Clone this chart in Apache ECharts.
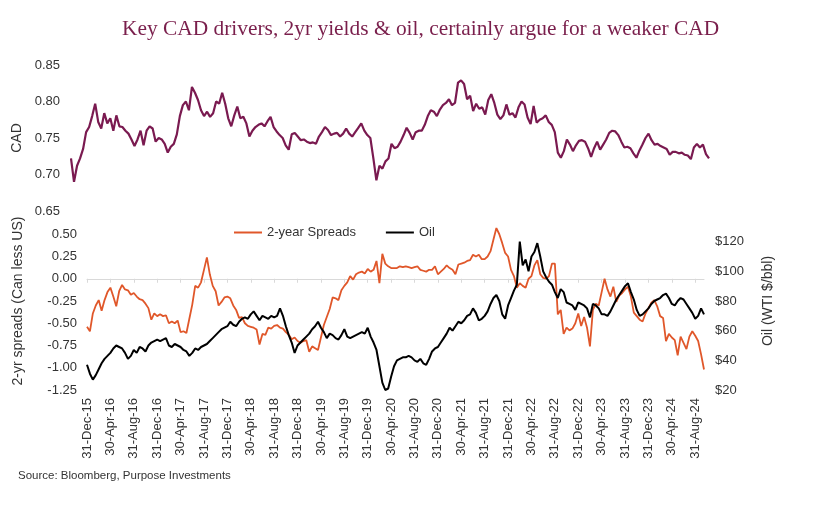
<!DOCTYPE html>
<html>
<head>
<meta charset="utf-8">
<script src="https://cdn.jsdelivr.net/npm/echarts@6/dist/echarts.min.js"></script>
<style>
html,body{margin:0;padding:0;background:#fff;}
#chart{width:820px;height:509px;}
</style>
</head>
<body>
<div id="chart"></div>
<script>
// ---- Data (semi-monthly readings, 31-Dec-15 .. 15-Oct-24) ----
const MONTHS = ['Jan','Feb','Mar','Apr','May','Jun','Jul','Aug','Sep','Oct','Nov','Dec'];
const MONTH_END = [31,28,31,30,31,30,31,31,30,31,30,31];

const tickLabels = ['31-Dec-15','30-Apr-16','31-Aug-16','31-Dec-16','30-Apr-17','31-Aug-17','31-Dec-17',
  '30-Apr-18','31-Aug-18','31-Dec-18','30-Apr-19','31-Aug-19','31-Dec-19','30-Apr-20','31-Aug-20','31-Dec-20',
  '30-Apr-21','31-Aug-21','31-Dec-21','30-Apr-22','31-Aug-22','31-Dec-22','30-Apr-23','31-Aug-23','31-Dec-23',
  '30-Apr-24','31-Aug-24'];

const categories = ['31-Dec-15'];
for (let y = 2016; y <= 2024; y++) {
  for (let mo = 0; mo < 12; mo++) {
    const yy = String(y).slice(2);
    categories.push('15-' + MONTHS[mo] + '-' + yy);
    if (y === 2024 && mo === 9) break;
    let d = MONTH_END[mo];
    if (mo === 1 && y % 4 === 0) d = 29;
    categories.push(d + '-' + MONTHS[mo] + '-' + yy);
  }
}

const cad = [
  0.722,
  0.690,0.712,0.722,0.735,0.758,0.765,0.780,0.797,0.772,0.763,0.784,0.770,0.777,0.760,0.781,0.766,0.765,0.760,0.756,0.748,0.739,0.748,0.760,0.740,
  0.760,0.766,0.763,0.745,0.750,0.748,0.742,0.730,0.738,0.742,0.755,0.780,0.795,0.800,0.788,0.820,0.812,0.802,0.788,0.780,0.786,0.779,0.784,0.800,
  0.797,0.812,0.797,0.777,0.766,0.781,0.793,0.777,0.779,0.770,0.752,0.760,0.765,0.768,0.770,0.766,0.773,0.779,0.765,0.759,0.754,0.750,0.740,0.734,
  0.755,0.757,0.752,0.747,0.748,0.745,0.743,0.744,0.742,0.752,0.758,0.765,0.761,0.754,0.756,0.757,0.752,0.756,0.763,0.756,0.752,0.758,0.764,0.770,
  0.760,0.754,0.750,0.722,0.692,0.712,0.708,0.718,0.722,0.742,0.736,0.738,0.745,0.754,0.764,0.757,0.748,0.758,0.760,0.760,0.768,0.780,0.788,0.786,
  0.780,0.789,0.795,0.798,0.803,0.795,0.798,0.826,0.829,0.824,0.803,0.808,0.787,0.797,0.790,0.792,0.782,0.802,0.810,0.798,0.782,0.776,0.781,0.796,
  0.782,0.784,0.778,0.792,0.800,0.796,0.778,0.769,0.794,0.771,0.775,0.777,0.781,0.772,0.768,0.758,0.730,0.723,0.732,0.748,0.741,0.732,0.740,0.746,
  0.747,0.745,0.736,0.724,0.736,0.745,0.734,0.741,0.748,0.757,0.760,0.759,0.754,0.745,0.737,0.738,0.736,0.729,0.723,0.733,0.741,0.750,0.756,0.747,
  0.741,0.742,0.739,0.737,0.735,0.727,0.731,0.731,0.729,0.730,0.727,0.726,0.721,0.737,0.742,0.737,0.741,0.728,0.722
];

const spreads = [
  -0.54,
  -0.59,-0.39,-0.30,-0.24,-0.36,-0.24,-0.15,-0.10,-0.20,-0.31,-0.14,-0.07,-0.12,-0.13,-0.18,-0.16,-0.20,-0.23,-0.24,-0.28,-0.33,-0.46,-0.39,-0.42,
  -0.40,-0.42,-0.41,-0.50,-0.48,-0.50,-0.47,-0.60,-0.59,-0.61,-0.45,-0.29,-0.08,-0.10,-0.04,0.10,0.24,0.05,-0.08,-0.14,-0.30,-0.26,-0.21,-0.20,
  -0.22,-0.30,-0.35,-0.44,-0.43,-0.50,-0.53,-0.54,-0.55,-0.57,-0.74,-0.62,-0.63,-0.55,-0.56,-0.53,-0.52,-0.55,-0.56,-0.60,-0.63,-0.68,-0.66,-0.70,
  -0.72,-0.70,-0.69,-0.82,-0.76,-0.78,-0.80,-0.66,-0.52,-0.43,-0.34,-0.21,-0.22,-0.24,-0.13,-0.08,-0.04,0.03,-0.01,0.05,0.07,0.08,0.06,0.11,
  0.08,0.10,0.20,-0.05,0.28,0.17,0.14,0.12,0.12,0.12,0.14,0.13,0.14,0.13,0.12,0.13,0.14,0.10,0.09,0.08,0.10,0.10,0.14,0.05,
  0.08,0.11,0.15,0.12,0.10,0.05,0.16,0.17,0.18,0.20,0.21,0.27,0.25,0.27,0.22,0.22,0.25,0.31,0.44,0.57,0.50,0.40,0.29,0.25,
  0.10,0.03,-0.10,-0.05,-0.08,-0.10,0.00,0.03,0.15,0.21,0.05,0.01,0.00,0.03,0.17,0.17,-0.40,-0.35,-0.62,-0.55,-0.58,-0.56,-0.50,-0.39,
  -0.53,-0.43,-0.55,-0.76,-0.35,-0.28,-0.30,-0.15,0.00,-0.12,-0.20,-0.09,-0.26,-0.19,-0.16,-0.12,-0.09,-0.20,-0.38,-0.42,-0.46,-0.48,-0.39,-0.33,
  -0.27,-0.24,-0.31,-0.42,-0.44,-0.70,-0.62,-0.66,-0.69,-0.86,-0.65,-0.72,-0.79,-0.65,-0.59,-0.64,-0.70,-0.85,-1.02
];

const oil = [
  37,
  31,27,30,34,38,41,43,45,48,50,49,48,45,41,43,47,45,49,48,46,50,52,53,54,
  53,54,55,50,49,51,50,49,47,46,43,45,48,47,49,50,51,53,55,57,59,61,62,63,
  66,64,63,66,68,69,68,71,73,70,67,70,69,68,70,69,70,75,70,63,57,52,45,50,
  52,54,56,58,61,63,66,62,59,55,58,57,55,54,57,61,56,55,56,57,58,59,58,62,
  56,52,47,36,25,20,21,29,36,40,41,42,42,43,42,40,39,41,38,37,41,46,48,49,
  52,55,58,62,60,63,66,65,67,70,71,75,72,67,68,70,73,78,82,84,80,71,68,77,
  82,87,91,120,104,108,100,110,113,119,110,100,96,93,91,86,82,88,86,79,78,77,74,79,
  78,77,75,69,78,77,75,71,71,70,73,77,81,84,87,90,92,86,81,74,70,71,73,75,
  78,80,81,82,84,85,82,78,77,80,82,81,78,75,72,68,70,75,71
];

const leftTicks = {min: -1.25, max: 0.75, step: 0.25};
const oilTicks = {min: 20, max: 140, step: 20};
const cadTicks = {min: 0.65, max: 0.85, step: 0.05};

// ---- Chart ----
const FONT = '"Liberation Sans", Arial, sans-serif';
const TXT = '#333333';
const isTick = (i, v) => tickLabels.indexOf(v) >= 0;

const chart = echarts.init(document.getElementById('chart'), null, {renderer: 'canvas'});
chart.setOption({
  animation: false,
  backgroundColor: '#ffffff',
  textStyle: {fontFamily: FONT},
  title: {
    text: 'Key CAD drivers, 2yr yields & oil, certainly argue for a weaker CAD',
    left: 117, top: 14,
    textStyle: {fontFamily: '"Liberation Serif", "Times New Roman", serif', fontWeight: 'normal', fontSize: 21.4, color: '#7a1f4c'}
  },
  graphic: [{
    type: 'text', left: 18, top: 470,
    style: {text: 'Source: Bloomberg, Purpose Investments', font: '11.5px ' + FONT, fill: TXT}
  }],
  legend: {
    data: ['2-year Spreads', 'Oil'],
    left: 229, top: 221,
    icon: 'rect', itemWidth: 28, itemHeight: 2, itemGap: 30,
    textStyle: {fontSize: 13, color: TXT, fontFamily: FONT}
  },
  grid: [
    {left: 71, right: 111, top: 65, bottom: 298},
    {left: 87, right: 116, top: 212, bottom: 119}
  ],
  xAxis: [
    {type: 'category', gridIndex: 0, data: categories, boundaryGap: false, show: false},
    {type: 'category', gridIndex: 1, data: categories, boundaryGap: false, position: 'bottom',
      axisLine: {show: true, onZero: true, onZeroAxisIndex: 1, lineStyle: {color: '#d9d9d9', width: 1}},
      axisTick: {show: true, interval: isTick, length: 4, lineStyle: {color: '#d9d9d9'}},
      axisLabel: {show: false}, splitLine: {show: false}},
    {type: 'category', gridIndex: 1, data: categories, boundaryGap: false, position: 'bottom',
      axisLine: {show: false, onZero: false}, axisTick: {show: false},
      axisLabel: {show: true, interval: isTick, rotate: 90, margin: 8, fontSize: 13, color: TXT, fontFamily: FONT},
      splitLine: {show: false}}
  ],
  yAxis: [
    {type: 'value', gridIndex: 0, min: cadTicks.min, max: cadTicks.max, interval: cadTicks.step,
      name: 'CAD', nameLocation: 'middle', nameGap: 47, nameTextStyle: {fontSize: 14, color: TXT, fontFamily: FONT},
      axisLine: {show: false}, axisTick: {show: false}, splitLine: {show: false},
      axisLabel: {margin: 11, fontSize: 13, color: TXT, fontFamily: FONT, formatter: v => v.toFixed(2)}},
    {type: 'value', gridIndex: 1, position: 'left', min: leftTicks.min, max: leftTicks.max, interval: leftTicks.step,
      name: '2-yr spreads (Can less US)', nameLocation: 'middle', nameGap: 62, nameTextStyle: {fontSize: 14, color: TXT, fontFamily: FONT},
      axisLine: {show: false}, axisTick: {show: false}, splitLine: {show: false},
      axisLabel: {margin: 10, showMaxLabel: false, fontSize: 13, color: TXT, fontFamily: FONT, formatter: v => v.toFixed(2)}},
    {type: 'value', gridIndex: 1, position: 'right', min: oilTicks.min, max: oilTicks.max, interval: oilTicks.step,
      name: 'Oil (WTI $/bbl)', nameLocation: 'middle', nameGap: 57, nameRotate: 90, nameTextStyle: {fontSize: 14, color: TXT, fontFamily: FONT},
      axisLine: {show: false}, axisTick: {show: false}, splitLine: {show: false},
      axisLabel: {margin: 11, showMaxLabel: false, fontSize: 13, color: TXT, fontFamily: FONT, formatter: v => '$' + v}}
  ],
  series: [
    {name: 'CAD', type: 'line', xAxisIndex: 0, yAxisIndex: 0, data: cad, symbol: 'none',
      lineStyle: {color: '#7a1a50', width: 2.2}, itemStyle: {color: '#7a1a50'}},
    {name: '2-year Spreads', type: 'line', xAxisIndex: 1, yAxisIndex: 1, data: spreads, symbol: 'none',
      lineStyle: {color: '#e0572a', width: 1.8}, itemStyle: {color: '#e0572a'}},
    {name: 'Oil', type: 'line', xAxisIndex: 1, yAxisIndex: 2, data: oil, symbol: 'none',
      lineStyle: {color: '#000000', width: 2}, itemStyle: {color: '#000000'}}
  ]
});
</script>
</body>
</html>
